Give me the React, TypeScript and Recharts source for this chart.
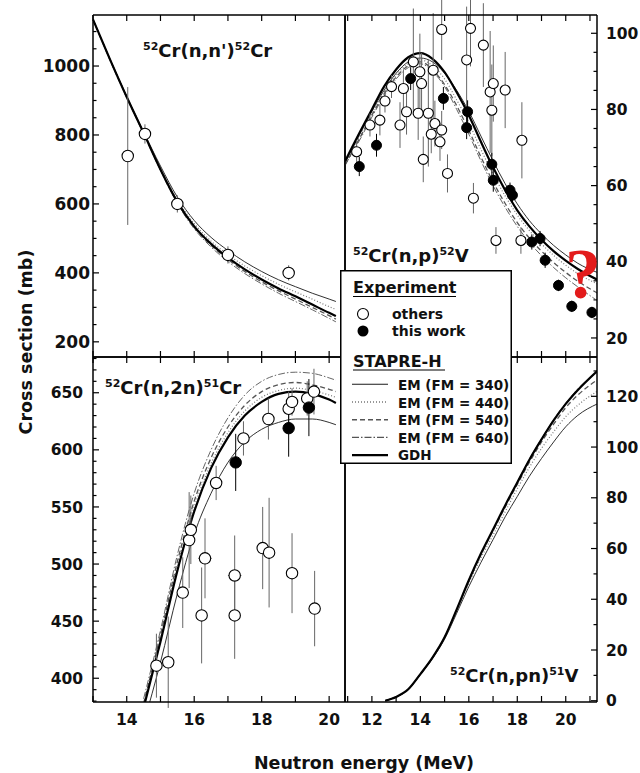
import React from 'react';
import { ComposedChart, Line, Scatter, XAxis, YAxis, ErrorBar, Legend, ReferenceLine } from 'recharts';

const W = 640;
const H = 773;
const FONT = '"DejaVu Sans", Arial, sans-serif';

// 52Cr(n,n')52Cr
const nnEnergy = [13, 13.5, 14, 14.5, 15, 15.5, 16, 16.5, 17, 17.5, 18, 18.5, 19, 19.5, 20, 20.2];
const nnEM340 = [1135, 1021, 912, 809, 710, 620, 552, 503, 465, 432, 404, 380, 360, 341, 324, 317];
const nnEM440 = [1135, 1020, 911, 807, 704, 612, 543, 492, 453, 420, 392, 367, 345, 324, 302, 294];
const nnEM540 = [1135, 1019, 909, 805, 699, 604, 532, 480, 439, 404, 374, 348, 324, 300, 276, 266];
const nnEM640 = [1135, 1019, 908, 804, 697, 601, 528, 475, 433, 398, 368, 341, 317, 293, 268, 258];
const nnGDH = [1135, 1020, 910, 806, 700, 606, 535, 484, 444, 410, 381, 355, 332, 308, 284, 275];
const nnOthers = [
  { x: 14.03, y: 739, err: 200 },
  { x: 14.54, y: 803, err: 28 },
  { x: 15.5, y: 600, err: 25 },
  { x: 17.0, y: 452, err: 25 },
  { x: 18.8, y: 400, err: 22 },
];
const nnMine: { x: number; y: number; err: number }[] = [];

// 52Cr(n,p)52V
const npEnergy = [10.9, 11.5, 12, 12.5, 13, 13.5, 14, 14.5, 15, 15.5, 16, 16.5, 17, 17.5, 18, 18.5, 19, 19.5, 20, 20.5, 21.3];
const npEM340 = [66, 73.5, 79.5, 85, 89.5, 92.5, 93.5, 92.5, 89.5, 85, 79.5, 73, 66.5, 60.5, 55.2, 50.8, 47.3, 44.3, 41.8, 39.6, 37.2];
const npEM440 = [66, 73, 79, 84.5, 89, 92, 93, 91.5, 88, 82.5, 76.5, 69.5, 63, 57.3, 52.3, 48.2, 44.7, 41.7, 39.1, 36.9, 34.2];
const npEM540 = [65.5, 72.5, 78.5, 84, 88.5, 91.5, 92.5, 90.5, 86.5, 81, 74.5, 67.5, 61, 55.3, 50.3, 46.2, 42.8, 39.8, 37.2, 34.9, 31.8];
const npEM640 = [65.5, 72, 78, 83.5, 88, 91, 92, 90, 86, 80, 73.5, 66.5, 60, 54.3, 49.3, 45.1, 41.6, 38.5, 35.8, 33.4, 29.8];
const npGDH = [66.5, 74, 80, 86, 90.5, 93.7, 94.8, 93.3, 89.8, 84.5, 78.5, 71.5, 64.8, 58.8, 53.5, 49.3, 45.8, 42.8, 40.3, 38.1, 35.3];
const npOthers = [
  { x: 11.37, y: 68.9, err: 3 },
  { x: 11.92, y: 75.9, err: 3 },
  { x: 12.33, y: 77.2, err: 4 },
  { x: 12.54, y: 82.2, err: 3 },
  { x: 12.81, y: 86.0, err: 3 },
  { x: 13.16, y: 75.9, err: 6 },
  { x: 13.3, y: 85.5, err: 5 },
  { x: 13.43, y: 79.4, err: 6 },
  { x: 13.71, y: 92.5, err: 14 },
  { x: 13.91, y: 79.0, err: 7 },
  { x: 13.98, y: 89.9, err: 10 },
  { x: 14.05, y: 86.8, err: 8 },
  { x: 14.12, y: 66.9, err: 6 },
  { x: 14.33, y: 79.0, err: 14 },
  { x: 14.45, y: 73.5, err: 5 },
  { x: 14.53, y: 90.3, err: 15 },
  { x: 14.6, y: 76.3, err: 6 },
  { x: 14.81, y: 71.5, err: 5 },
  { x: 14.88, y: 74.6, err: 5 },
  { x: 14.88, y: 101.0, err: 8 },
  { x: 15.12, y: 63.2, err: 5 },
  { x: 15.91, y: 93.0, err: 14 },
  { x: 16.07, y: 101.3, err: 10 },
  { x: 16.19, y: 56.7, err: 4 },
  { x: 16.6, y: 96.9, err: 11 },
  { x: 16.88, y: 84.6, err: 16 },
  { x: 16.95, y: 79.8, err: 12 },
  { x: 17.01, y: 86.8, err: 10 },
  { x: 17.12, y: 45.6, err: 3.5 },
  { x: 17.5, y: 85.1, err: 10 },
  { x: 18.15, y: 45.6, err: 3.5 },
  { x: 18.19, y: 71.9, err: 10 },
];
const npMine = [
  { x: 11.48, y: 65.0, err: 2.5 },
  { x: 12.19, y: 70.6, err: 3 },
  { x: 13.6, y: 88.1, err: 3 },
  { x: 14.95, y: 82.9, err: 3 },
  { x: 15.95, y: 79.4, err: 3 },
  { x: 15.91, y: 75.2, err: 3 },
  { x: 16.95, y: 65.6, err: 3 },
  { x: 17.01, y: 61.4, err: 3 },
  { x: 17.7, y: 58.8, err: 2 },
  { x: 17.8, y: 57.5, err: 2 },
  { x: 18.6, y: 45.2, err: 2 },
  { x: 18.94, y: 46.1, err: 2 },
  { x: 19.15, y: 40.4, err: 2 },
  { x: 19.7, y: 33.8, err: 1.5 },
  { x: 20.25, y: 28.3, err: 1.5 },
  { x: 21.08, y: 26.7, err: 1.5 },
];

// 52Cr(n,2n)51Cr
const n2nEnergy = [14.5, 15, 15.5, 16, 16.5, 17, 17.5, 18, 18.5, 19, 19.5, 20, 20.2];
const n2nEM340 = [360, 414, 474, 526, 562, 589, 607, 618, 624, 627, 627, 624, 622];
const n2nEM440 = [376, 435, 498, 550, 588, 615, 634, 646, 652, 654, 652, 648, 646];
const n2nEM540 = [378, 438, 502, 555, 593, 620, 639, 651, 657, 659, 657, 653, 651];
const n2nEM640 = [382, 442, 508, 562, 600, 628, 648, 660, 666, 668, 667, 663, 661];
const n2nGDH = [374, 432, 494, 546, 584, 611, 630, 642, 649, 651, 649, 644, 641];
const n2nOthers = [
  { x: 14.88, y: 411, err: 28, xerr: 0 },
  { x: 15.23, y: 414, err: 40, xerr: 0 },
  { x: 15.66, y: 475, err: 31, xerr: 0.15 },
  { x: 15.85, y: 521, err: 42, xerr: 0 },
  { x: 15.9, y: 530, err: 30, xerr: 0 },
  { x: 16.22, y: 455, err: 42, xerr: 0 },
  { x: 16.32, y: 505, err: 35, xerr: 0.2 },
  { x: 16.65, y: 571, err: 15, xerr: 0 },
  { x: 17.2, y: 490, err: 35, xerr: 0.2 },
  { x: 17.2, y: 455, err: 38, xerr: 0 },
  { x: 17.46, y: 610, err: 15, xerr: 0 },
  { x: 18.03, y: 514, err: 36, xerr: 0 },
  { x: 18.2, y: 627, err: 18, xerr: 0 },
  { x: 18.22, y: 510, err: 48, xerr: 0 },
  { x: 18.8, y: 636, err: 15, xerr: 0.15 },
  { x: 18.9, y: 642, err: 12, xerr: 0 },
  { x: 18.9, y: 492, err: 35, xerr: 0 },
  { x: 19.35, y: 645, err: 15, xerr: 0 },
  { x: 19.55, y: 651, err: 20, xerr: 0 },
  { x: 19.57, y: 461, err: 33, xerr: 0 },
];
const n2nMine = [
  { x: 17.23, y: 589, err: 25 },
  { x: 18.8, y: 619, err: 25 },
  { x: 19.4, y: 637, err: 25 },
];

// 52Cr(n,pn)51V
const pnEnergy = [12.55, 13, 13.5, 14, 14.5, 15, 15.5, 16, 16.5, 17, 17.5, 18, 18.5, 19, 19.5, 20, 20.5, 21.3];
const pnEM340 = [0, 1.5, 4.5, 10.3, 16.6, 24.3, 34.5, 45, 54.5, 63.5, 72.5, 80.5, 88.5, 95.5, 102, 108, 112.5, 117];
const pnEM440 = [0, 1.5, 4.5, 10.4, 16.8, 24.7, 35.3, 46.3, 56.3, 65.3, 74.5, 83.5, 92, 99.5, 106, 112, 116.5, 122];
const pnEM540 = [0, 1.5, 4.5, 10.5, 17, 25, 35.8, 47.2, 57.6, 67, 76.3, 85.3, 94, 102, 109, 115.5, 120.5, 126.5];
const pnEM640 = [0, 1.5, 4.5, 10.5, 17, 25, 36, 47.5, 58, 67.5, 77, 86.2, 95.2, 103.3, 110.8, 117.3, 123, 129.5];
const pnGDH = [0, 1.5, 4.5, 10.5, 17, 25, 36, 47.5, 58, 67.5, 77, 86, 95, 103, 110.5, 117, 122.5, 130];

// axis ticks
const leftXTicks = [13, 14, 15, 16, 17, 18, 19, 20];
const leftXLabels = [14, 16, 18, 20];
const rightXTicks = [11, 12, 13, 14, 15, 16, 17, 18, 19, 20, 21];
const rightXLabels = [12, 14, 16, 18, 20];
const nnYLabels = [200, 400, 600, 800, 1000];
const npYLabels = [20, 40, 60, 80, 100];
const n2nYLabels = [400, 450, 500, 550, 600, 650];
const pnYLabels = [0, 20, 40, 60, 80, 100, 120];

const steps = (from: number, to: number, step: number) => {
  const out: number[] = [];
  for (let v = from; v <= to + 1e-9; v += step) out.push(Math.round(v * 100) / 100);
  return out;
};

const curveStyles = [
  { key: 'em340', name: 'EM (FM = 340)', stroke: '#1a1a1a', width: 0.9, dash: undefined as string | undefined },
  { key: 'em440', name: 'EM (FM = 440)', stroke: '#777', width: 1.2, dash: '1 2' },
  { key: 'em540', name: 'EM (FM = 540)', stroke: '#555', width: 1.3, dash: '5 3' },
  { key: 'em640', name: 'EM (FM = 640)', stroke: '#555', width: 0.9, dash: '7 2 1.5 2' },
  { key: 'gdh', name: 'GDH', stroke: '#000', width: 2.2, dash: undefined as string | undefined },
];

type Side = 'left' | 'right' | 'bottom';
interface Pt { x: number; y: number; err: number; xerr?: number }

const MAJOR = 6;
const MINOR = 3.5;
const axisLine = { stroke: '#000', strokeWidth: 1.5 };
const near = (arr: number[], v: number) => arr.some((a) => Math.abs(a - v) < 1e-6);

// labels only; the inward tick marks are drawn as reference segments
const makeLabel = (side: Side, labels: number[], fontSize: number, gap: number) =>
  (props: any) => {
    const { x, y, payload } = props;
    const v = payload.value as number;
    if (!near(labels, v)) return <g />;
    let tx = x;
    let ty = y;
    let anchor: 'start' | 'middle' | 'end' = 'middle';
    if (side === 'left') { tx = x - gap; anchor = 'end'; }
    else if (side === 'right') { tx = x + gap; anchor = 'start'; }
    else { ty = y + gap; }
    return (
      <text x={tx} y={ty} dy={side === 'bottom' ? 0 : '0.36em'} textAnchor={anchor}
        fontFamily={FONT} fontWeight="bold" fontSize={fontSize} fill="#111">
        {v}
      </text>
    );
  };

const openDot = (r: number) => (props: any) => (
  <circle cx={props.cx} cy={props.cy} r={r} fill="#fff" stroke="#000" strokeWidth={1.1} />
);
const filledDot = (r: number) => (props: any) => (
  <circle cx={props.cx} cy={props.cy} r={r} fill="#000" stroke="#000" strokeWidth={1} />
);

const toPts = (xs: number[], ys: number[]) => xs.map((x, i) => ({ x, y: ys[i] }));

interface PanelProps {
  box: [number, number, number, number];
  xDomain: [number, number];
  yDomain: [number, number];
  energies: number[];
  curves: number[][];
  others: Pt[];
  mine: Pt[];
  xTicks: number[];
  xLabels: number[];
  yMinor: number[];
  yLabels: number[];
  ySide: 'left' | 'right';
  yFont: number;
  yGap: number;
  dotR: number;
  children?: React.ReactNode;
}

// tick segments in data units: a fixed pixel length converted through the panel's scale
const tickSegments = (p: PanelProps) => {
  const [l, t, r, b] = p.box;
  const [x0, x1] = p.xDomain;
  const [y0, y1] = p.yDomain;
  const perPxX = (x1 - x0) / (r - l);
  const perPxY = (y1 - y0) / (b - t);
  const segs: { x: number; y: number }[][] = [];
  p.xTicks.forEach((v) => {
    segs.push([{ x: v, y: y1 }, { x: v, y: y1 - MAJOR * perPxY }]);
    segs.push([{ x: v, y: y0 }, { x: v, y: y0 + MAJOR * perPxY }]);
  });
  const edge = p.ySide === 'left' ? x0 : x1;
  const dir = p.ySide === 'left' ? 1 : -1;
  p.yMinor.forEach((v) => {
    const len = near(p.yLabels, v) ? MAJOR : MINOR;
    segs.push([{ x: edge, y: v }, { x: edge + dir * len * perPxX, y: v }]);
  });
  return segs;
};

const Panel = (p: PanelProps) => {
  const [l, t, r, b] = p.box;
  const otherSide = p.ySide === 'left' ? 'right' : 'left';
  // every axis is 1px thick, so the margins are shrunk by that much
  return (
    <div style={{ position: 'absolute', left: 0, top: 0 }}>
      <ComposedChart width={W} height={H}
        margin={{ left: l - 1, top: t - 1, right: W - r - 1, bottom: H - b - 1 }}>
        <XAxis xAxisId="b" type="number" dataKey="x" domain={p.xDomain} allowDataOverflow
          ticks={p.xTicks} interval={0} height={1} tickSize={0} tickMargin={0} tickLine={false}
          axisLine={axisLine} tick={makeLabel('bottom', p.xLabels, 15.5, 23)} />
        <XAxis xAxisId="t" orientation="top" type="number" dataKey="x" domain={p.xDomain} allowDataOverflow
          height={1} tick={false} tickLine={false} axisLine={axisLine} />
        <YAxis yAxisId="v" orientation={p.ySide} type="number" dataKey="y" domain={p.yDomain} allowDataOverflow
          ticks={p.yLabels} interval={0} width={1} tickSize={0} tickMargin={0} tickLine={false}
          axisLine={axisLine} tick={makeLabel(p.ySide, p.yLabels, p.yFont, p.yGap)} />
        <YAxis yAxisId="o" orientation={otherSide} type="number" domain={p.yDomain} allowDataOverflow
          width={1} tick={false} tickLine={false} axisLine={axisLine} />
        {tickSegments(p).map((s, i) => (
          <ReferenceLine key={`tk${i}`} xAxisId="b" yAxisId="v" segment={s} ifOverflow="visible"
            stroke="#000" strokeWidth={1.2} />
        ))}
        {curveStyles.map((s, i) => (
          <Line key={s.key} xAxisId="b" yAxisId="v" data={toPts(p.energies, p.curves[i])} dataKey="y"
            name={s.name} type="monotone" stroke={s.stroke} strokeWidth={s.width} strokeDasharray={s.dash}
            dot={false} activeDot={false} isAnimationActive={false} />
        ))}
        <Scatter xAxisId="b" yAxisId="v" data={p.others} dataKey="y" name="others"
          shape={openDot(p.dotR)} isAnimationActive={false}>
          <ErrorBar dataKey="err" direction="y" width={0} stroke="#666" strokeWidth={1} />
          <ErrorBar dataKey="xerr" direction="x" width={0} stroke="#666" strokeWidth={1} />
        </Scatter>
        <Scatter xAxisId="b" yAxisId="v" data={p.mine} dataKey="y" name="this work"
          shape={filledDot(p.dotR)} isAnimationActive={false}>
          <ErrorBar dataKey="err" direction="y" width={0} stroke="#000" strokeWidth={1} />
        </Scatter>
        {p.children}
      </ComposedChart>
    </div>
  );
};

const LegendBox = () => (
  <svg width={172} height={194} style={{ display: 'block' }}>
    <rect x={0.75} y={0.75} width={170.5} height={192.5} fill="#fff" stroke="#000" strokeWidth={1.5} />
    <g fontFamily={FONT} fontWeight="bold" fill="#111">
      <text x={13} y={23} fontSize={16}>Experiment</text>
      <line x1={13} x2={116} y1={26.5} y2={26.5} stroke="#000" strokeWidth={1.2} />
      <circle cx={23} cy={44} r={5.5} fill="#fff" stroke="#000" strokeWidth={1.1} />
      <text x={52} y={49} fontSize={14}>others</text>
      <circle cx={23} cy={61} r={5.5} fill="#000" />
      <text x={52} y={66} fontSize={14}>this work</text>
      <text x={13} y={97} fontSize={16}>STAPRE-H</text>
      <line x1={13} x2={105} y1={100} y2={100} stroke="#000" strokeWidth={1.2} />
      {curveStyles.map((s, i) => (
        <g key={s.key}>
          <line x1={12} x2={48} y1={114.3 + 17.7 * i} y2={114.3 + 17.7 * i} stroke={s.stroke}
            strokeWidth={s.key === 'gdh' ? 2.4 : s.width + 0.2} strokeDasharray={s.dash} />
          <text x={58} y={120 + 17.6 * i} fontSize={13.5}>{s.name}</text>
        </g>
      ))}
    </g>
  </svg>
);

const Reaction = ({ x, y, a, mid, b, tail }: { x: number; y: number; a: string; mid: string; b: string; tail: string }) => (
  <text x={x} y={y} fontFamily={FONT} fontWeight="bold" fontSize={18} fill="#111">
    <tspan fontSize={11} dy={-7}>{a}</tspan>
    <tspan dy={7}>{mid}</tspan>
    <tspan fontSize={11} dy={-7}>{b}</tspan>
    <tspan dy={7}>{tail}</tspan>
  </text>
);

const App = () => (
  <div style={{ position: 'absolute', left: 0, top: 0, width: W, height: H, background: '#fff', overflow: 'hidden' }}>
    <Panel box={[93, 15, 345, 357]} xDomain={[13, 20.47]} yDomain={[156, 1148]}
      energies={nnEnergy} curves={[nnEM340, nnEM440, nnEM540, nnEM640, nnGDH]}
      others={nnOthers} mine={nnMine} xTicks={leftXTicks} xLabels={[]}
      yMinor={steps(200, 1100, 50)} yLabels={nnYLabels} ySide="left" yFont={17} yGap={3} dotR={5.7} />
    <Panel box={[345, 15, 597, 357]} xDomain={[10.89, 21.29]} yDomain={[15, 104.8]}
      energies={npEnergy} curves={[npEM340, npEM440, npEM540, npEM640, npGDH]}
      others={npOthers} mine={npMine} xTicks={rightXTicks} xLabels={[]}
      yMinor={steps(20, 100, 5)} yLabels={npYLabels} ySide="right" yFont={15.5} yGap={9} dotR={5} />
    <Panel box={[93, 357, 345, 702]} xDomain={[13, 20.47]} yDomain={[379.2, 681.3]}
      energies={n2nEnergy} curves={[n2nEM340, n2nEM440, n2nEM540, n2nEM640, n2nGDH]}
      others={n2nOthers} mine={n2nMine} xTicks={leftXTicks} xLabels={leftXLabels}
      yMinor={steps(380, 680, 10)} yLabels={n2nYLabels} ySide="left" yFont={15.5} yGap={10} dotR={5.7} />
    <svg width={W} height={H} style={{ position: 'absolute', left: 0, top: 0 }}>
      <text x={32} y={342} transform="rotate(-90 32 342)" textAnchor="middle" fontFamily={FONT}
        fontWeight="bold" fontSize={17.5} fill="#111">Cross section (mb)</text>
      <text x={364} y={769} textAnchor="middle" fontFamily={FONT} fontWeight="bold" fontSize={17.5}
        fill="#111">Neutron energy (MeV)</text>
      <Reaction x={143} y={57} a="52" mid="Cr(n,n')" b="52" tail="Cr" />
      <Reaction x={353} y={262} a="52" mid="Cr(n,p)" b="52" tail="V" />
      <Reaction x={105} y={394} a="52" mid="Cr(n,2n)" b="51" tail="Cr" />
      <Reaction x={450} y={682} a="52" mid="Cr(n,pn)" b="51" tail="V" />
      <text x={583} y={298} textAnchor="middle" fontFamily='"Liberation Serif", serif' fontWeight="bold"
        fontSize={72} fill="#e31b1b">?</text>
    </svg>
    <Panel box={[345, 357, 597, 702]} xDomain={[10.89, 21.29]} yDomain={[-0.5, 135.5]}
      energies={pnEnergy} curves={[pnEM340, pnEM440, pnEM540, pnEM640, pnGDH]}
      others={[]} mine={[]} xTicks={rightXTicks} xLabels={rightXLabels}
      yMinor={steps(0, 130, 10)} yLabels={pnYLabels} ySide="right" yFont={15.5} yGap={9} dotR={5}>
      <Legend layout="horizontal" verticalAlign="middle" align="center"
        wrapperStyle={{ left: 340, top: 270, width: 172, height: 194 }}
        content={() => <LegendBox />} />
    </Panel>
  </div>
);

export default App;
